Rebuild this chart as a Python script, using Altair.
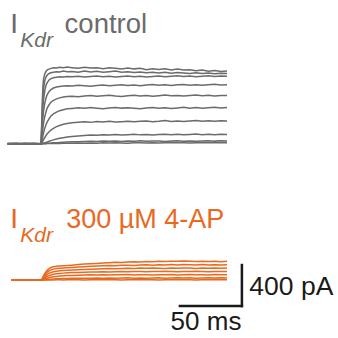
import altair as alt
import pandas as pd

# Sample times (ms) relative to the onset of the depolarising step
T_RISE_PLATEAU = [0.5, 1, 1.5, 2, 3, 4, 5, 6.5, 8, 10, 12.5, 15, 18, 21,
                  25, 30, 35, 40, 45, 50, 55, 60, 65, 70, 75, 80, 85, 90,
                  95, 100, 105, 110, 115, 120, 125, 130, 135, 140, 145, 150]
TIME_CTRL = [-27, -20, -13, -6, 0] + T_RISE_PLATEAU
TIME_4AP = [-24, -18, -12, -6, 0] + T_RISE_PLATEAU

# I_Kdr, control (pA), one list per voltage step
CTRL_1 = [0, 5, -5, 0, 0,
          185, 405, 555, 630, 680, 705, 720, 728, 735, 740, 738, 745, 740, 748,
          742, 735, 745, 738, 740, 732, 742, 735, 728, 738, 730, 735, 722, 730,
          725, 732, 720, 728, 718, 722, 712, 718, 708, 715, 705, 710]
CTRL_2 = [0, -5, 5, 0, 0,
          140, 315, 460, 535, 615, 650, 670, 685, 692, 698, 702, 700, 708, 703,
          705, 698, 708, 700, 706, 697, 703, 708, 698, 702, 695, 700, 692, 698,
          690, 696, 688, 694, 690, 684, 692, 686, 690, 682, 688, 684]
CTRL_3 = [0, 0, -5, 5, 0,
          100, 250, 360, 430, 515, 570, 595, 622, 635, 643, 648, 652, 650, 656,
          652, 658, 650, 655, 660, 652, 657, 650, 655, 660, 653, 658, 650, 656,
          660, 652, 657, 662, 655, 660, 652, 658, 663, 655, 660, 657]
CTRL_4 = [5, 0, 0, -5, 0,
          55, 170, 255, 315, 395, 445, 480, 510, 527, 543, 553, 558, 562, 566,
          563, 570, 565, 560, 568, 572, 565, 570, 575, 568, 573, 566, 572, 578,
          570, 575, 568, 574, 578, 571, 576, 570, 575, 579, 572, 576]
CTRL_5 = [0, 5, 0, 0, 0,
          30, 95, 155, 200, 265, 310, 350, 380, 405, 423, 437, 447, 455, 460,
          463, 458, 466, 470, 462, 467, 472, 465, 460, 468, 473, 466, 470, 463,
          468, 474, 467, 471, 465, 470, 475, 468, 472, 466, 471, 469]
CTRL_6 = [0, 0, 5, 0, 0,
          15, 42, 77, 105, 150, 185, 213, 245, 270, 290, 308, 322, 332, 340,
          344, 350, 345, 352, 346, 340, 348, 354, 347, 351, 345, 340, 348, 353,
          346, 350, 344, 349, 355, 347, 352, 345, 350, 355, 348, 352]
CTRL_7 = [0, 0, 0, 5, 0,
          5, 13, 26, 39, 60, 80, 97, 116, 133, 150, 166, 178, 189, 197,
          205, 210, 214, 208, 216, 212, 218, 211, 215, 220, 213, 218, 222, 215,
          219, 225, 217, 221, 216, 222, 226, 219, 223, 218, 224, 221]
CTRL_8 = [0, 0, 0, 0, 0,
          0, 1, 3, 5, 9, 13, 17, 24, 30, 37, 45, 52, 59, 65,
          71, 76, 80, 84, 82, 87, 85, 89, 84, 88, 92, 86, 90, 85,
          89, 93, 87, 91, 86, 90, 94, 88, 92, 87, 91, 89]
CTRL_9 = [0, 0, 0, 0, 0,
          0, 0, 0, 1, 2, 3, 4, 5, 6, 8, 10, 12, 14, 16,
          18, 20, 22, 24, 21, 25, 23, 27, 22, 26, 24, 28, 23, 27,
          25, 22, 26, 29, 24, 27, 23, 26, 29, 25, 28, 26]
CTRL_10 = [0, 0, 0, 0, 0,
           0, 0, 0, 0, 0, 0, 1, 1, 2, 2, 3, 3, 4, 4,
           5, 6, 4, 7, 5, 8, 6, 9, 7, 5, 8, 10, 7, 9,
           6, 8, 11, 8, 10, 7, 9, 12, 9, 11, 8, 10]

# I_Kdr in 300 uM 4-AP (pA)
AP_1 = [0, 3, -3, 0, 0,
        5, 15, 28, 40, 62, 82, 97, 112, 122, 130, 134, 137, 139, 141,
        145, 150, 155, 158, 162, 165, 168, 172, 170, 175, 178, 176, 180, 178,
        182, 180, 184, 182, 186, 183, 180, 184, 181, 183, 179, 182]
AP_2 = [0, -3, 3, 0, 0,
        3, 10, 20, 30, 48, 64, 77, 90, 99, 106, 111, 114, 117, 119,
        122, 126, 130, 133, 136, 138, 141, 139, 143, 145, 142, 146, 148, 145,
        149, 147, 150, 147, 151, 148, 146, 150, 147, 149, 146, 148]
AP_3 = [0, 0, 3, -3, 0,
        2, 6, 13, 20, 33, 45, 55, 66, 74, 81, 86, 89, 92, 94,
        97, 100, 103, 105, 107, 109, 111, 110, 113, 115, 112, 116, 114, 117,
        115, 113, 117, 115, 118, 116, 113, 117, 115, 118, 114, 116]
AP_4 = [0, 3, 0, 0, 0,
        1, 3, 7, 11, 19, 27, 34, 42, 49, 55, 60, 64, 67, 70,
        72, 74, 76, 78, 77, 80, 79, 81, 83, 80, 84, 82, 80, 84,
        82, 85, 83, 81, 84, 82, 85, 83, 81, 84, 82, 83]
AP_5 = [0, 0, 0, 3, 0,
        0, 1, 3, 5, 9, 13, 17, 22, 27, 31, 35, 38, 41, 43,
        45, 47, 48, 50, 49, 51, 48, 52, 50, 53, 49, 52, 50, 48,
        52, 50, 53, 49, 51, 54, 50, 52, 49, 53, 51, 50]
AP_6 = [0, 0, 0, 0, 0,
        0, 0, 1, 1, 2, 3, 4, 6, 7, 9, 11, 12, 14, 15,
        16, 17, 18, 17, 19, 18, 20, 17, 19, 21, 18, 20, 17, 19,
        21, 18, 20, 22, 19, 21, 18, 20, 22, 19, 21, 20]
AP_7 = [0, 0, 0, 0, 0,
        0, 0, 0, 0, 0, 0, 0, 1, 1, 1, 2, 2, 1, 2,
        3, 2, 1, 3, 2, 4, 2, 3, 1, 3, 2, 4, 3, 2,
        1, 3, 2, 4, 2, 3, 1, 3, 2, 4, 3, 2]

CONTROL = [CTRL_1, CTRL_2, CTRL_3, CTRL_4, CTRL_5,
           CTRL_6, CTRL_7, CTRL_8, CTRL_9, CTRL_10]
FOUR_AP = [AP_1, AP_2, AP_3, AP_4, AP_5, AP_6, AP_7]

# Scale bar (pA, ms)
BAR_PA = 400
BAR_MS = 50

GRAY = "#6b6b6b"
ORANGE = "#e8691f"
INK = "#1a1a1a"
FONT = "Liberation Sans"

# Layout: the control family is drawn above the 4-AP family
CONTROL_OFFSET = 1330        # pA
X_DOMAIN = [-33.1, 239.5]    # ms
Y_DOMAIN = [-566, 2732]      # pA
BAR_X = 162                  # ms, right end of the scale bar
BAR_Y = -254                 # pA, corner of the scale bar


def traces(families, times, offset):
    rows = []
    for i, vals in enumerate(families):
        for t, v in zip(times, vals):
            rows.append({"trace": i, "t": t, "i": v + offset})
    return pd.DataFrame(rows)


xs = alt.Scale(domain=X_DOMAIN, nice=False, zero=False)
ys = alt.Scale(domain=Y_DOMAIN, nice=False, zero=False)
X = lambda f: alt.X(f, type="quantitative", scale=xs, axis=None)
Y = lambda f: alt.Y(f, type="quantitative", scale=ys, axis=None)

ctrl = alt.Chart(traces(CONTROL, TIME_CTRL, CONTROL_OFFSET)).mark_line(
    color=GRAY, strokeWidth=1.5, interpolate="linear"
).encode(x=X("t"), y=Y("i"), detail="trace:N", order="t:Q")

ap = alt.Chart(traces(FOUR_AP, TIME_4AP, 0)).mark_line(
    color=ORANGE, strokeWidth=1.5, interpolate="linear"
).encode(x=X("t"), y=Y("i"), detail="trace:N", order="t:Q")

bar_df = pd.DataFrame([
    {"x": BAR_X - BAR_MS, "y": BAR_Y, "x2": BAR_X, "y2": BAR_Y},
    {"x": BAR_X, "y": BAR_Y, "x2": BAR_X, "y2": BAR_Y + BAR_PA},
])
bar = alt.Chart(bar_df).mark_rule(color=INK, strokeWidth=2.5, strokeCap="square").encode(
    x=X("x"), y=Y("y"), x2="x2", y2="y2"
)

labels = [
    # x (ms), y (pA), text, colour, size, style
    (-24.8, CONTROL_OFFSET + 1080, "I", GRAY, 28, "normal"),
    (-16.8, CONTROL_OFFSET + 943, "Kdr", GRAY, 21, "italic"),
    (19.0, CONTROL_OFFSET + 1080, "control", GRAY, 27.5, "normal"),
    (-24.8, 507, "I", ORANGE, 28, "normal"),
    (-16.8, 371, "Kdr", ORANGE, 21, "italic"),
    (20.3, 507, "300 µM 4-AP", ORANGE, 27, "normal"),
    (BAR_X + 6, BAR_Y + 108, f"{BAR_PA} pA", INK, 26.5, "normal"),
    (BAR_X - BAR_MS - 7.5, BAR_Y - 234, f"{BAR_MS} ms", INK, 26, "normal"),
]

text_layers = []
for x, y, txt, col, size, style in labels:
    text_layers.append(
        alt.Chart(pd.DataFrame([{"x": x, "y": y, "text": txt}])).mark_text(
            align="left", baseline="alphabetic", font=FONT,
            fontSize=size, fontStyle=style, color=col
        ).encode(x=X("x"), y=Y("y"), text="text:N")
    )

chart = alt.layer(ctrl, ap, bar, *text_layers).properties(
    width=338, height=338, padding=0, autosize="none", background="white"
).configure_view(stroke=None)

chart.save("out.html", embed_options={"renderer": "svg", "actions": False})
